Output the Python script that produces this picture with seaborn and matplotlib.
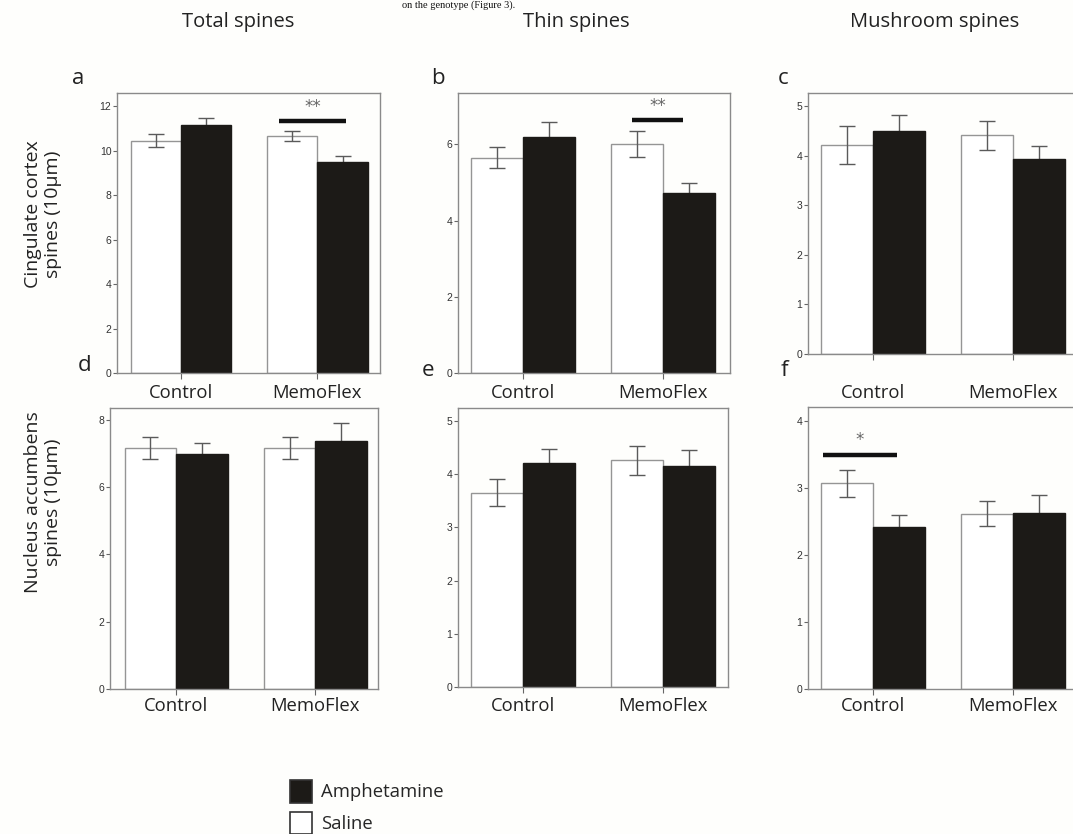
import numpy as np
import pandas as pd
import matplotlib
matplotlib.use("Agg")
import matplotlib.pyplot as plt
import seaborn as sns
from matplotlib.transforms import blended_transform_factory

# ---------------- data ----------------
genotypes = ["Control", "MemoFlex"]
treatments = ["Saline", "Amphetamine"]
column_titles = ["Total spines", "Thin spines", "Mushroom spines"]
row_titles = ["Cingulate cortex\nspines (10µm)", "Nucleus accumbens\nspines (10µm)"]
panel_letters = ["a", "b", "c", "d", "e", "f"]

# means per genotype [Control, MemoFlex] and standard errors
cc_total_saline = [10.46, 10.67]
cc_total_saline_se = [0.31, 0.24]
cc_total_amph = [11.17, 9.48]
cc_total_amph_se = [0.32, 0.30]

cc_thin_saline = [5.65, 6.00]
cc_thin_saline_se = [0.28, 0.34]
cc_thin_amph = [6.19, 4.73]
cc_thin_amph_se = [0.41, 0.27]

cc_mush_saline = [4.21, 4.41]
cc_mush_saline_se = [0.38, 0.29]
cc_mush_amph = [4.50, 3.92]
cc_mush_amph_se = [0.31, 0.27]

na_total_saline = [7.16, 7.17]
na_total_saline_se = [0.34, 0.33]
na_total_amph = [6.97, 7.37]
na_total_amph_se = [0.35, 0.52]

na_thin_saline = [3.65, 4.26]
na_thin_saline_se = [0.25, 0.27]
na_thin_amph = [4.21, 4.15]
na_thin_amph_se = [0.26, 0.30]

na_mush_saline = [3.07, 2.62]
na_mush_saline_se = [0.20, 0.18]
na_mush_amph = [2.42, 2.63]
na_mush_amph_se = [0.18, 0.27]

y_ticks = [[0, 2, 4, 6, 8, 10, 12], [0, 2, 4, 6], [0, 1, 2, 3, 4, 5],
           [0, 2, 4, 6, 8], [0, 1, 2, 3, 4, 5], [0, 1, 2, 3, 4]]

# significance annotations: panel index -> (x0, x1, y, label)
significance = {0: (0.72, 1.21, 11.36, "**"),
                1: (0.78, 1.14, 6.63, "**"),
                5: (-0.36, 0.17, 3.50, "*")}

panels = [
    (cc_total_saline, cc_total_saline_se, cc_total_amph, cc_total_amph_se),
    (cc_thin_saline, cc_thin_saline_se, cc_thin_amph, cc_thin_amph_se),
    (cc_mush_saline, cc_mush_saline_se, cc_mush_amph, cc_mush_amph_se),
    (na_total_saline, na_total_saline_se, na_total_amph, na_total_amph_se),
    (na_thin_saline, na_thin_saline_se, na_thin_amph, na_thin_amph_se),
    (na_mush_saline, na_mush_saline_se, na_mush_amph, na_mush_amph_se),
]

# ---------------- layout (pixels) ----------------
W, H = 1073, 834
# left, right, top, bottom, xlim, ymax
boxes = [
    (117, 380, 93, 373, (-0.47, 1.46), 12.6),
    (458, 730, 93, 373, (-0.464, 1.479), 7.35),
    (808, 1077, 93, 354, (-0.464, 1.457), 5.26),
    (110, 378, 408, 689, (-0.475, 1.45), 8.35),
    (458, 728, 408, 687, (-0.466, 1.464), 5.24),
    (808, 1077, 407, 689, (-0.464, 1.457), 4.21),
]
cat_label_y = [393, 393, 393, 706, 706, 706]
letter_pos = [(78, 79), (438, 78), (783, 78), (85, 366), (428, 371), (784, 370)]

sns.set_style("white")
plt.rcParams["font.family"] = ["Open Sans", "DejaVu Sans"]

BG = "#fefefc"
fig = plt.figure(figsize=(W / 100, H / 100), dpi=100, facecolor=BG)

palette = {"Saline": "#ffffff", "Amphetamine": "#1c1a17"}
legend_handles = None

for i, (sal, sal_se, amp, amp_se) in enumerate(panels):
    l, r, t, b, xlim, ymax = boxes[i]
    ax = fig.add_axes([l / W, 1 - b / H, (r - l) / W, (b - t) / H])
    ax.set_facecolor(BG)
    df = pd.DataFrame({
        "Genotype": genotypes * 2,
        "Treatment": ["Saline"] * 2 + ["Amphetamine"] * 2,
        "Spines": list(sal) + list(amp),
    })
    sns.barplot(data=df, x="Genotype", y="Spines", hue="Treatment",
                order=genotypes, hue_order=treatments, palette=palette,
                width=0.74, errorbar=None, linewidth=1.0,
                legend=(i == 0), ax=ax, saturation=1)
    if i == 0:
        legend_handles = ax.get_legend_handles_labels()
        ax.get_legend().remove()

    ses = {"Saline": sal_se, "Amphetamine": amp_se}
    means = {"Saline": sal, "Amphetamine": amp}
    for cont, trt in zip(ax.containers, treatments):
        for bar, m, se in zip(cont, means[trt], ses[trt]):
            if trt == "Saline":
                bar.set_edgecolor("#959595")
                bar.set_zorder(2)
                z = 3
            else:
                bar.set_edgecolor("#1c1a17")
                bar.set_zorder(2.5)
                z = 2.2
            xc = bar.get_x() + bar.get_width() / 2
            ax.errorbar(xc, m, yerr=se, fmt="none", ecolor="#5a5a5a",
                        elinewidth=1.0, capsize=5.5, capthick=1.0, zorder=z)

    if i in significance:
        x0, x1, ys, lab = significance[i]
        ax.plot([x0, x1], [ys, ys], color="#111111", lw=3.2,
                solid_capstyle="butt", zorder=4)
        ax.text((x0 + x1) / 2, ys + (ymax * 0.018), lab, ha="center",
                va="bottom", fontsize=12, color="#666666",
                family=["DejaVu Sans"])

    ax.set_xlim(*xlim)
    ax.set_ylim(0, ymax)
    ax.set_yticks(y_ticks[i])
    ax.set_yticklabels([str(v) for v in y_ticks[i]],
                       family=["Liberation Sans", "DejaVu Sans"],
                       fontsize=7.5, color="#333333")
    ax.set_xticks(range(len(genotypes)))
    ax.set_xticklabels([])
    ax.set_xlabel("")
    ax.set_ylabel("")
    ax.tick_params(axis="y", left=True, length=3, width=0.8,
                   color="#666666", pad=1)
    ax.tick_params(axis="x", bottom=True, length=4, width=0.8,
                   color="#666666", pad=1)
    for s in ax.spines.values():
        s.set_visible(True)
        s.set_color("#8a8a8a")
        s.set_linewidth(1.0)

    trans = blended_transform_factory(ax.transData, fig.transFigure)
    for k, g in enumerate(genotypes):
        ax.text(k, 1 - cat_label_y[i] / H, g, transform=trans, ha="center",
                va="center", fontsize=13.3, color="#222222")

    lx, ly = letter_pos[i]
    fig.text(lx / W, 1 - ly / H, panel_letters[i], ha="center",
             va="center", fontsize=16, color="#222222")

# column titles
for title, cx in zip(column_titles, [238, 576, 935]):
    fig.text(cx / W, 1 - 22 / H, title, ha="center", va="center",
             fontsize=14.5, color="#222222")

# row titles
for title, cy in zip(row_titles, [214, 502]):
    fig.text(43 / W, 1 - cy / H, title, ha="center", va="center",
             rotation=90, fontsize=14, color="#222222", linespacing=1.15)

# cropped text line at top of the page (kept small so it stays inside)
fig.text(515 / W, 1 - 0.5 / H, "on the genotype (Figure 3).", ha="right",
         va="top", fontsize=7.5, family=["Liberation Serif"],
         color="#111111")

# legend
handles, labels = legend_handles
order = [labels.index("Amphetamine"), labels.index("Saline")]
hs = [handles[k] for k in order]
ls = [labels[k] for k in order]
leg = fig.legend(hs, ls, loc="upper left",
                 bbox_to_anchor=(290 / W, 1 - 780 / H), frameon=False,
                 fontsize=13.3, handlelength=1.2, handleheight=1.5,
                 handletextpad=0.5, labelspacing=0.5, borderpad=0,
                 borderaxespad=0)
for h in leg.legend_handles:
    h.set_edgecolor("#333333")
    h.set_linewidth(1.2)

fig.savefig("out.png", dpi=100, facecolor=BG)
